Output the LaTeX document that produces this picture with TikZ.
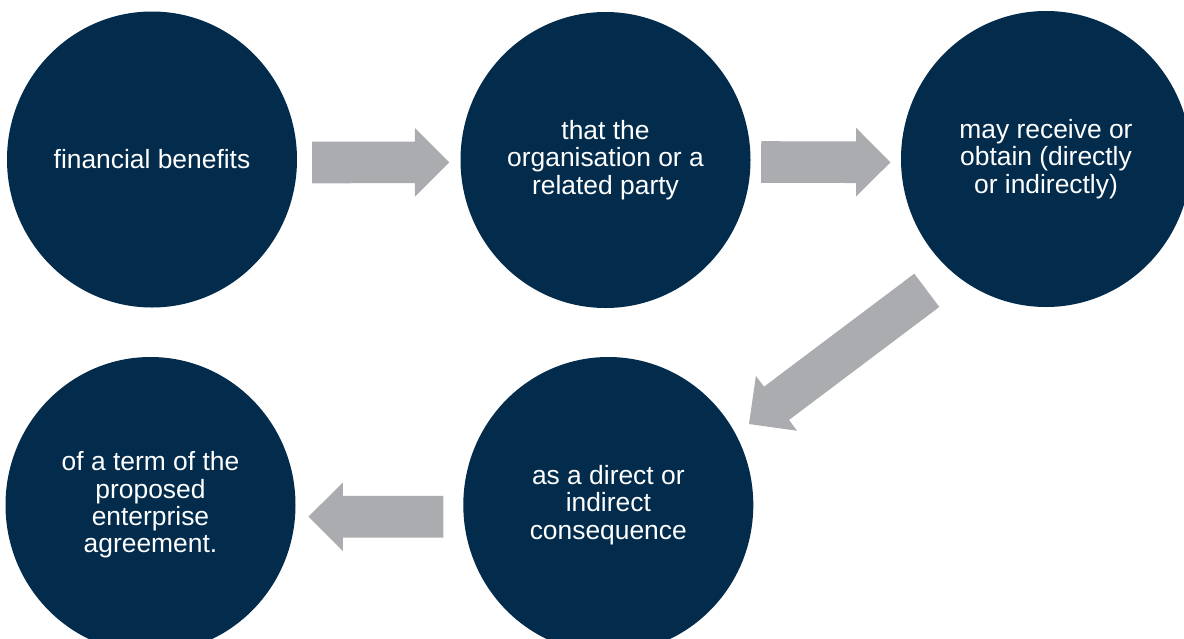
\documentclass[tikz,border=0pt]{standalone}
\usepackage{fontspec}
\setmainfont{Liberation Sans}
\usetikzlibrary{shapes.geometric,calc}
\definecolor{navy}{HTML}{022B4C}
\definecolor{arrowgray}{HTML}{ABACB0}
\tikzset{
  bubble/.style={ellipse, fill=navy, draw=none, minimum width=290pt, minimum height=296pt,
    inner sep=0pt, text=white, align=center, font=\fontsize{26.4}{27.3}\selectfont},
  blockarrow/.style={fill=arrowgray, draw=none}
}
\newcommand\blockarr[2]{%
  \fill[blockarrow] let \p1=(#1), \p2=(#2),
    \n1={atan2(\y2-\y1,\x2-\x1)}, \n2={veclen(\x2-\x1,\y2-\y1)}, \n3={\n2-34.4} in
    [shift={(\p1)}, rotate=\n1]
    (0,-20.8) -- (\n3,-20.8) -- (\n3,-34.3) -- (\n2,0) -- (\n3,34.3) -- (\n3,20.8) -- (0,20.8) -- cycle;
}
\begin{document}
\begin{tikzpicture}[x=1pt, y=-1pt]
  \useasboundingbox (0,0) rectangle (1184,638);
  \clip (0,0) rectangle (1184,638);
  \fill[white] (0,0) rectangle (1184,638);

  \node[bubble] (c1) at (152,159.5) {financial benefits};
  \node[bubble] (c2) at (605.5,160) {that the\\organisation or a\\related party};
  \node[bubble] (c3) at (1046,159) {may receive or\\obtain (directly\\or indirectly)};
  \node[bubble] (c4) at (150.5,505) {of a term of the\\proposed\\enterprise\\agreement.};
  \node[bubble] (c5) at (608.3,505) {as a direct or\\indirect\\consequence};

  \coordinate (a1s) at ($(c1.east)+(15,3)$);
  \coordinate (a1e) at ($(c2.west)+(-11,2.3)$);
  \coordinate (a2s) at ($(c2.east)+(10.5,2)$);
  \coordinate (a2e) at ($(c3.west)+(-10.3,3.3)$);
  \coordinate (a3s) at ($(c3.center)+(-119.2,131.3)$);
  \coordinate (a3e) at ($(c5.center)+(140.7,-81)$);
  \coordinate (a4s) at ($(c5.west)+(-19.8,11.7)$);
  \coordinate (a4e) at ($(c4.east)+(12.8,11.7)$);

  \blockarr{a1s}{a1e}
  \blockarr{a2s}{a2e}
  \blockarr{a3s}{a3e}
  \blockarr{a4s}{a4e}
\end{tikzpicture}
\end{document}
